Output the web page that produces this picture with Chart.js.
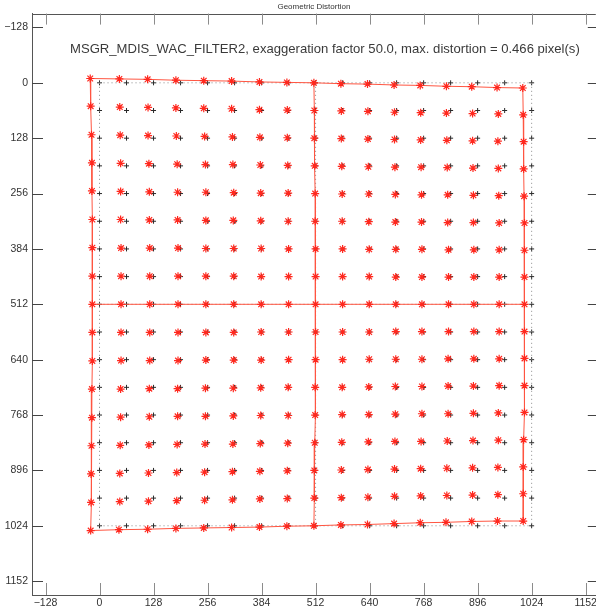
<!DOCTYPE html>
<html>
<head>
<meta charset="utf-8">
<title>Geometric Distortion</title>
<script src="https://cdn.jsdelivr.net/npm/chart.js@4.4.1/dist/chart.umd.min.js"></script>
<style>
  html, body { margin: 0; padding: 0; background: #fff; overflow: hidden; }
</style>
</head>
<body>
<!-- 5px wider than the window: the plot frame of the original runs off the right edge -->
<canvas id="distChart" width="601" height="611"></canvas>
<script>
const chartTitle = 'Geometric Distortion';
const subTitle = 'MSGR_MDIS_WAC_FILTER2, exaggeration factor 50.0, max. distortion = 0.466 pixel(s)';

const tickValues = [-128, 0, 128, 256, 384, 512, 640, 768, 896, 1024, 1152];
const tickLabels = ['\u2212128', '0', '128', '256', '384', '512', '640', '768', '896', '1024', '1152'];

// nominal grid positions (pixels), same for rows and columns
const gridPos = [0, 64, 128, 192, 256, 320, 384, 448, 512, 576, 640, 704, 768, 832, 896, 960, 1024];

// measured displacement of each grid point, already multiplied by the exaggeration factor
// one row per grid row (top to bottom), one value per column (left to right)
const shiftX = [
    [-22, -17, -14, -11, -9, -7, -5, -4, -4, -4, -5, -6, -8, -10, -14, -18, -21],
    [-21, -16, -13, -11, -9, -7, -5, -3, -3, -3, -4, -5, -7, -10, -12, -15, -20],
    [-19, -15, -13, -10, -7, -5, -4, -3, -3, -3, -4, -5, -7, -9, -12, -16, -19],
    [-18, -14, -11, -8, -5, -4, -3, -2, -2, -2, -3, -4, -6, -8, -11, -15, -19],
    [-18, -14, -10, -7, -4, -2, -2, -1, -1, -1, -2, -3, -5, -7, -10, -14, -18],
    [-17, -14, -10, -7, -4, -3, -2, -1, -1, -1, -2, -3, -5, -7, -10, -13, -17],
    [-17, -13, -9, -6, -4, -2, -1, 0, 0, 0, -1, -2, -4, -5, -9, -13, -17],
    [-17, -13, -9, -6, -4, -2, -1, 0, 0, 0, -1, -2, -4, -5, -9, -13, -17],
    [-17, -13, -9, -6, -4, -2, -1, 0, 0, 0, -1, -2, -4, -5, -9, -13, -17],
    [-17, -13, -9, -6, -4, -2, -1, 0, 0, 0, -1, -2, -4, -5, -9, -13, -17],
    [-17, -13, -9, -6, -4, -2, -1, 0, 0, 0, -1, -2, -4, -6, -9, -13, -17],
    [-18, -14, -10, -7, -5, -3, -2, -1, -1, -1, -2, -3, -4, -6, -10, -13, -17],
    [-18, -14, -10, -7, -5, -3, -2, -1, -1, -1, -2, -3, -4, -6, -10, -15, -17],
    [-19, -15, -11, -8, -6, -4, -3, -2, -2, -2, -3, -4, -6, -8, -11, -15, -19],
    [-20, -16, -12, -9, -7, -5, -4, -3, -3, -3, -4, -5, -7, -9, -12, -16, -20],
    [-20, -16, -12, -9, -7, -5, -4, -3, -3, -3, -4, -5, -7, -9, -12, -16, -20],
    [-21, -18, -14, -11, -9, -7, -5, -4, -4, -4, -5, -6, -8, -11, -14, -17, -20]
];
const shiftY = [
    [-10, -9, -8, -6, -5, -4, -2, -1, 0, 2, 3, 5, 6, 8, 9, 11, 12],
    [-10, -8, -7, -6, -5, -4, -2, -1, 0, 1, 2, 4, 5, 6, 7, 8, 10],
    [-8, -7, -6, -5, -4, -3, -2, -1, 0, 1, 2, 3, 4, 5, 6, 7, 8],
    [-7, -6, -5, -4, -3, -3, -2, -1, 0, 1, 2, 3, 3, 4, 5, 6, 7],
    [-6, -5, -4, -3, -3, -2, -1, -1, 0, 1, 1, 2, 3, 3, 4, 5, 6],
    [-4, -4, -3, -3, -2, -2, -1, 0, 0, 0, 1, 2, 2, 3, 3, 4, 4],
    [-3, -2, -2, -2, -1, -1, -1, 0, 0, 0, 1, 1, 1, 2, 2, 2, 3],
    [-1, -1, -1, -1, -1, -1, 0, 0, 0, 0, 0, 1, 1, 1, 1, 1, 1],
    [0, 0, 0, 0, 0, 0, 0, 0, 0, 0, 0, 0, 0, 0, 0, 0, 0],
    [1, 1, 1, 1, 1, 1, 0, 0, 0, 0, 0, -1, -1, -1, -1, -1, -1],
    [3, 2, 2, 2, 1, 1, 1, 0, 0, 0, -1, -1, -1, -2, -2, -2, -3],
    [4, 4, 3, 3, 2, 2, 1, 0, 0, 0, -1, -2, -2, -3, -3, -4, -4],
    [6, 5, 4, 3, 3, 2, 1, 1, 0, -1, -1, -2, -3, -3, -4, -5, -6],
    [7, 6, 5, 4, 3, 3, 2, 1, 0, -1, -2, -3, -3, -4, -5, -6, -7],
    [8, 7, 6, 5, 4, 3, 2, 1, 0, -1, -2, -3, -4, -5, -6, -7, -8],
    [10, 8, 7, 6, 5, 4, 2, 1, 0, -1, -2, -4, -5, -6, -7, -8, -10],
    [11, 9, 8, 6, 5, 4, 3, 1, 0, -2, -3, -5, -7, -8, -10, -11, -11]
];

// rows / columns that get a connecting line
const lineRows = [0, 8, 16];
const lineCols = [0, 8, 16];

const RED = 'rgb(255, 40, 30)';
const RED_LINE = 'rgb(255, 85, 65)';
const FONT = '"Liberation Sans", Arial, sans-serif';

function rowPoints(j, distorted) {
    return gridPos.map((x, k) => distorted
        ? { x: x + shiftX[j][k], y: gridPos[j] + shiftY[j][k] }
        : { x: x, y: gridPos[j] });
}

function colPoints(k, distorted) {
    return gridPos.map((y, j) => distorted
        ? { x: gridPos[k] + shiftX[j][k], y: y + shiftY[j][k] }
        : { x: gridPos[k], y: y });
}

let nominal = [];
let measured = [];
gridPos.forEach((y, j) => {
    nominal = nominal.concat(rowPoints(j, false));
    measured = measured.concat(rowPoints(j, true));
});

const datasets = [];
datasets.push({
    label: 'measured',
    data: measured,
    pointStyle: 'star',
    pointRadius: 4,
    borderColor: RED,
    backgroundColor: RED,
    borderWidth: 1.2,
    order: 0
});
lineRows.forEach(j => datasets.push({ data: rowPoints(j, true), showLine: true, pointRadius: 0, borderColor: RED_LINE, borderWidth: 1, order: 1 }));
lineCols.forEach(k => datasets.push({ data: colPoints(k, true), showLine: true, pointRadius: 0, borderColor: RED_LINE, borderWidth: 1, order: 1 }));
lineRows.forEach(j => datasets.push({ data: rowPoints(j, false), showLine: true, pointRadius: 0, borderColor: '#8c8c8c', borderWidth: 1, borderDash: [1, 3], order: 2 }));
lineCols.forEach(k => datasets.push({ data: colPoints(k, false), showLine: true, pointRadius: 0, borderColor: '#8c8c8c', borderWidth: 1, borderDash: [1, 3], order: 2 }));
datasets.push({
    label: 'nominal',
    data: nominal,
    pointStyle: 'cross',
    pointRadius: 2.5,
    borderColor: '#2a2a2a',
    borderWidth: 1,
    order: 3
});

// inward tick marks on all four sides, x labels, the top frame line and the in-plot caption
const framePlugin = {
    id: 'frame',
    afterDraw(chart) {
        const ctx = chart.ctx;
        const a = chart.chartArea;
        const xs = chart.scales.x;
        const ys = chart.scales.y;
        const seg = (x1, y1, x2, y2) => { ctx.beginPath(); ctx.moveTo(x1, y1); ctx.lineTo(x2, y2); ctx.stroke(); };
        ctx.save();
        ctx.lineWidth = 1;
        ctx.strokeStyle = '#555';
        seg(a.left, Math.round(a.top) + 0.5, a.right, Math.round(a.top) + 0.5);
        seg(Math.round(a.right) + 1.5, a.top, Math.round(a.right) + 1.5, a.bottom);

        ctx.strokeStyle = '#8c8c8c';
        tickValues.forEach(v => {
            const px = Math.round(xs.getPixelForValue(v)) + 0.5;
            seg(px, a.bottom, px, a.bottom - 12);
            seg(px, a.top, px, a.top + 11);
        });
        ctx.strokeStyle = '#444';
        tickValues.forEach(v => {
            const py = Math.round(ys.getPixelForValue(v)) + 0.5;
            seg(a.left, py, a.left + 11, py);
            seg(a.right + 2, py, a.right - 8, py);
        });

        ctx.fillStyle = '#333';
        ctx.font = '10.5px ' + FONT;
        ctx.textAlign = 'center';
        ctx.textBaseline = 'middle';
        tickValues.forEach((v, i) => {
            ctx.fillText(tickLabels[i], xs.getPixelForValue(v), a.bottom + 8.5);
        });

        ctx.fillStyle = '#3a3a3a';
        ctx.font = '13.1px ' + FONT;
        ctx.textAlign = 'left';
        ctx.fillText(subTitle, 70, a.top + 36);
        ctx.restore();
    }
};

const ctx = document.getElementById('distChart').getContext('2d');
const chart = new Chart(ctx, {
    type: 'scatter',
    data: { datasets: datasets },
    options: {
        responsive: false,
        animation: false,
        layout: { padding: 0 },
        plugins: {
            legend: { display: false },
            tooltip: { enabled: false },
            title: {
                display: true,
                text: chartTitle,
                fullSize: false,
                color: '#333',
                font: { family: FONT, size: 8, weight: 'normal' },
                padding: { top: 2, bottom: 2 }
            }
        },
        scales: {
            x: {
                type: 'linear',
                min: -160,
                max: 1176,
                grid: { display: false, drawTicks: false },
                border: { display: true, color: '#555' },
                ticks: { display: false },
                afterBuildTicks: s => { s.ticks = tickValues.map(v => ({ value: v })); },
                afterFit: s => { s.height = 16; }
            },
            y: {
                type: 'linear',
                reverse: true,
                min: -160,
                max: 1184,
                grid: { display: false, drawTicks: false },
                border: { display: true, color: '#555' },
                ticks: {
                    font: { family: FONT, size: 10.5 },
                    color: '#333',
                    padding: 4,
                    autoSkip: false,
                    callback: v => tickLabels[tickValues.indexOf(v)]
                },
                afterBuildTicks: s => { s.ticks = tickValues.map(v => ({ value: v })); },
                afterFit: s => { s.width = 32; }
            }
        }
    },
    plugins: [framePlugin]
});
</script>
</body>
</html>
